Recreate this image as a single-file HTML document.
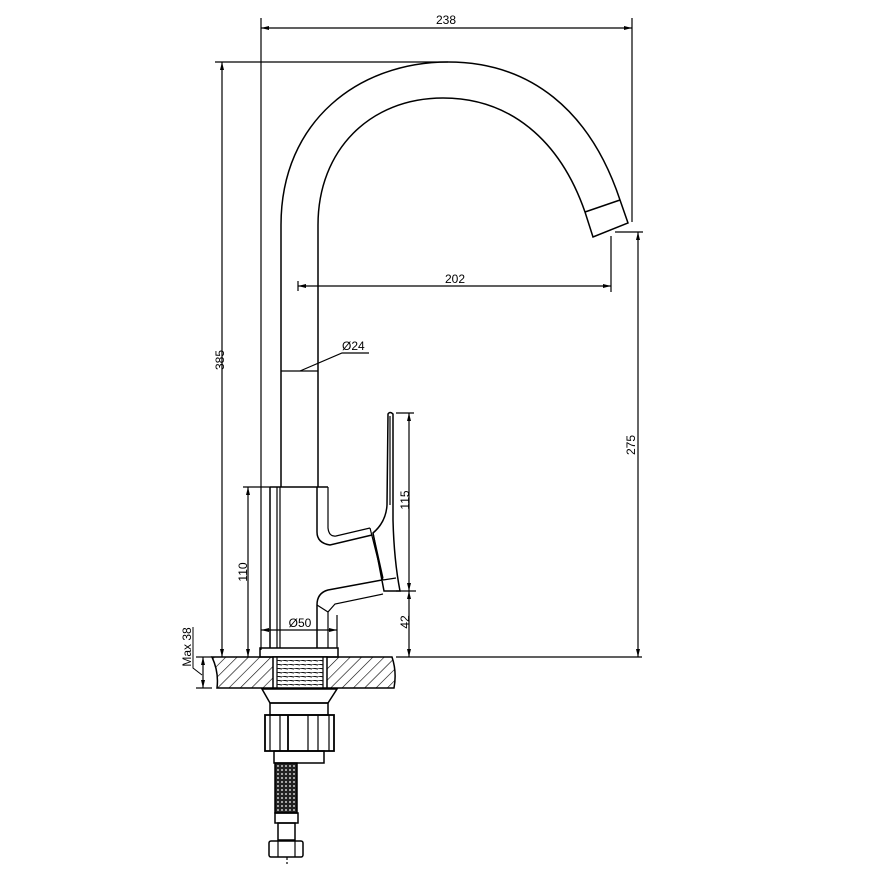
<!DOCTYPE html>
<html><head><meta charset="utf-8"><style>
html,body{margin:0;padding:0;background:#fff;}
svg{display:block;}
text{font-family:"Liberation Sans",sans-serif;font-size:12px;fill:#000;}
</style></head><body>
<svg width="870" height="870" viewBox="0 0 870 870" xmlns="http://www.w3.org/2000/svg">
<defs>
<pattern id="h" width="8" height="8" patternUnits="userSpaceOnUse" patternTransform="rotate(45)">
<line x1="0" y1="0" x2="0" y2="8" stroke="#000" stroke-width="1.2"/>
</pattern>
<pattern id="mesh" width="4" height="4" patternUnits="userSpaceOnUse">
<rect width="4" height="4" fill="#222"/><circle cx="2" cy="2" r="0.9" fill="#fff"/>
</pattern>
<pattern id="thr" width="6" height="4" patternUnits="userSpaceOnUse">
<line x1="0" y1="0" x2="6" y2="1" stroke="#000" stroke-width="1"/>
</pattern>
</defs>
<g fill="none" stroke="#000" stroke-width="1.2">
<!-- dimension 238 -->
<line x1="261" y1="18" x2="261" y2="650"/>
<line x1="632" y1="18" x2="632" y2="222"/>
<line x1="261" y1="28" x2="632" y2="28"/>
<!-- 385 -->
<line x1="215" y1="62" x2="448" y2="62"/>
<line x1="222" y1="62" x2="222" y2="657"/>
<!-- 202 -->
<line x1="298" y1="286" x2="611" y2="286"/>
<line x1="298" y1="281" x2="298" y2="291"/>
<line x1="611" y1="236" x2="611" y2="292"/>
<!-- 275 -->
<line x1="615" y1="232" x2="643" y2="232"/>
<line x1="638" y1="232" x2="638" y2="657"/>
<line x1="396" y1="657" x2="642" y2="657"/>
<!-- Ø24 -->
<line x1="281" y1="371" x2="318" y2="371"/>
<polyline points="300,371 342,353 369,353"/>
<!-- 110 -->
<line x1="243" y1="487" x2="270" y2="487"/>
<line x1="248" y1="487" x2="248" y2="657"/>
<!-- 115 / 42 -->
<line x1="396" y1="413" x2="414" y2="413"/>
<line x1="396" y1="591" x2="416" y2="591"/>
<line x1="409" y1="413" x2="409" y2="657"/>
<!-- Ø50 -->
<line x1="261" y1="630" x2="337" y2="630"/>
<line x1="337" y1="615" x2="337" y2="648"/>
<!-- Max 38 -->
<line x1="196" y1="657" x2="212" y2="657"/>
<line x1="196" y1="688" x2="212" y2="688"/>
<line x1="203" y1="657" x2="203" y2="688"/>
<polyline points="193,627 193,668 202,675" stroke-width="1"/>

<!-- spout -->
<path d="M281,487 L281,225 C281,120 360,62 448,62 C530,62 590,110 620,200 L628,223 L593,237 L585,212 C560,140 510,98 443,98 C370,98 318,150 318,225 L318,487" stroke-width="1.5"/>
<line x1="585" y1="212" x2="620" y2="200" stroke-width="1.5"/>

<!-- body -->
<line x1="270" y1="487" x2="328" y2="487" stroke-width="1.5"/>
<line x1="270" y1="487" x2="270" y2="648" stroke-width="1.5"/>
<line x1="277" y1="487" x2="277" y2="648"/>
<line x1="280" y1="487" x2="280" y2="648"/>
<path d="M317,487 L317,532 Q317,543 330,545 L372,535" stroke-width="1.5"/>
<path d="M328,487 L328,528 Q329,537 336,536 L370,528" />
<path d="M317,648 L317,605 Q317,593 328,590 L382,580" stroke-width="1.5"/>
<path d="M328,648 L328,612 L335,604 L383,594" />
<line x1="317" y1="605" x2="328" y2="612"/>
<!-- handle -->
<path d="M370,528 L383,580 M373,533 L383,578" />
<path d="M388,414 Q390,411 393,414 L393,520 Q394,560 400,591 L384,591 L373,533 Q386,522 387,505 Z" stroke-width="1.5"/>
<line x1="390" y1="416" x2="390" y2="505"/>
<line x1="383" y1="580" x2="396" y2="578"/>

<!-- flange -->
<rect x="260" y="648" width="78" height="9" stroke-width="1.5"/>
<!-- counter slab -->
<path d="M212,657 L392,657 Q397,672 394,688 L217,688 Q219,672 212,657 Z" fill="url(#h)" stroke-width="1.5"/>
<rect x="273" y="657" width="54" height="31" fill="#fff" stroke-width="1.5"/>
<rect x="277" y="659" width="46" height="28" fill="url(#thr)" stroke="none"/>
<line x1="277" y1="657" x2="277" y2="688"/>
<line x1="323" y1="657" x2="323" y2="688"/>
<!-- below -->
<path d="M262,689 L337,689 L328,703 L270,703 Z" stroke-width="1.5"/>
<rect x="270" y="703" width="58" height="12" stroke-width="1.5"/>
<rect x="265" y="715" width="69" height="36" stroke-width="1.8"/>
<line x1="270" y1="715" x2="270" y2="751"/>
<line x1="280" y1="715" x2="280" y2="751"/>
<line x1="288" y1="715" x2="288" y2="751" stroke-width="1.8"/>
<line x1="308" y1="715" x2="308" y2="751"/>
<line x1="318" y1="715" x2="318" y2="751"/>
<line x1="329" y1="715" x2="329" y2="751"/>
<rect x="274" y="751" width="50" height="12" stroke-width="1.5"/>
<rect x="275" y="763" width="22" height="50" fill="url(#mesh)" stroke-width="1.5"/>
<rect x="275" y="813" width="23" height="10" stroke-width="1.5"/>
<rect x="278" y="823" width="17" height="17" stroke-width="1.5"/>
<rect x="269" y="841" width="34" height="16" rx="2" stroke-width="1.5"/>
<line x1="278" y1="841" x2="278" y2="857"/>
<line x1="295" y1="841" x2="295" y2="857"/>
<line x1="287" y1="857" x2="287" y2="864" stroke-dasharray="3,2"/>
</g>
<!-- arrow ticks -->
<g fill="#000">
<polygon points="261,28 269,26 269,30"/><polygon points="632,28 624,26 624,30"/>
<polygon points="222,62 220,70 224,70"/><polygon points="222,657 220,649 224,649"/>
<polygon points="298,286 306,284 306,288"/><polygon points="611,286 603,284 603,288"/>
<polygon points="638,232 636,240 640,240"/><polygon points="638,657 636,649 640,649"/>
<polygon points="248,487 246,495 250,495"/><polygon points="248,657 246,649 250,649"/>
<polygon points="409,413 407,421 411,421"/><polygon points="409,591 407,583 411,583"/>
<polygon points="409,591 407,599 411,599"/><polygon points="409,657 407,649 411,649"/>
<polygon points="261,630 269,628 269,632"/><polygon points="337,630 329,628 329,632"/>
<polygon points="203,657 201,665 205,665"/><polygon points="203,688 201,680 205,680"/>
</g>
<text x="446" y="24" text-anchor="middle">238</text>
<text x="455" y="283" text-anchor="middle">202</text>
<text x="342" y="350">Ø24</text>
<text x="300" y="627" text-anchor="middle">Ø50</text>
<text transform="translate(224,360) rotate(-90)" text-anchor="middle">385</text>
<text transform="translate(635,445) rotate(-90)" text-anchor="middle">275</text>
<text transform="translate(247,572) rotate(-90)" text-anchor="middle">110</text>
<text transform="translate(409,500) rotate(-90)" text-anchor="middle">115</text>
<text transform="translate(409,622) rotate(-90)" text-anchor="middle">42</text>
<text transform="translate(191,647) rotate(-90)" text-anchor="middle">Max 38</text>
</svg>
</body></html>
